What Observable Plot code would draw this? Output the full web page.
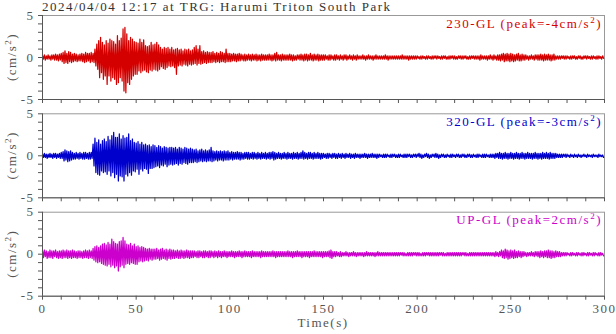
<!DOCTYPE html>
<html><head><meta charset="utf-8">
<script src="https://cdn.jsdelivr.net/npm/d3@7"></script>
<script src="https://cdn.jsdelivr.net/npm/@observablehq/plot@0.6"></script>
<style>
body{margin:0;background:#fff;}
#c{position:relative;width:616px;height:334px;overflow:hidden;font-family:"Liberation Serif","Times New Roman",serif;}
#c svg{position:absolute;left:0;top:0;}
#c svg text{letter-spacing:1.5px;}
</style></head><body><div id="c"></div>
<script>
const title = "2024/04/04 12:17 at TRG: Harumi Triton South Park";
const components = ["230-GL", "320-GL", "UP-GL"];
const peaks = [-4, -3, 2];
const colors = ["#d40000", "#0000cc", "#cc00cc"];
const xTickLabels = [0, 50, 100, 150, 200, 250, 300];
const yTickLabels = [-5, 0, 5];
const yLabel = "(cm/s";
const xLabel = "Time(s)";

// per-second maxima / minima (cm/s^2), t = 0..299 s
const redHi = [
.2,.3,.2,.3,.2,.3,.3,.4,.3,.4, .5,.6,.8,.5,.7,.6,.4,.5,.4,.3, .4,.5,.4,.6,.5,.5,.6,.5,1.0,1.6,
2.0,2.4,1.8,1.5,2.0,1.7,2.2,2.0,1.9,1.6, 2.6,2.0,2.3,3.4,3.6,2.8,2.0,2.4,2.2,1.9, 1.8,1.7,2.2,1.8,2.1,1.4,1.3,1.4,1.8,1.5,
1.6,1.8,1.5,1.2,1.0,1.2,1.1,1.2,1.0,1.2, 0.9,1.0,1.1,0.9,1.0,0.8,1.0,0.9,1.0,0.8, 0.9,1.2,1.4,1.0,1.4,0.7,0.8,0.6,0.7,0.6,
0.6,0.7,0.5,0.6,0.5,0.7,0.6,0.5,1.0,0.5, .5,.4,.5,.4,.4,.5,.4,.3,.4,.3, .4,.3,.4,.3,.4,.3,.3,.4,.3,.3,
.3,.4,.3,.3,.5,.6,.3,.3,.4,.3, .3,.3,.4,.3,.3,.2,.3,.3,.4,.3, .4,.4,.3,.5,.3,.4,.3,.4,.3,.3,
.3,.3,.2,.3,.3,.2,.3,.3,.2,.3, .2,.3,.3,.2,.3,.2,.3,.2,.3,.2, .2,.3,.2,.2,.3,.2,.2,.2,.3,.2,
.2,.2,.2,.3,.2,.2,.2,.2,.2,.2, .2,.2,.3,.2,.2,.2,.2,.2,.2,.2, .2,.1,.2,.2,.1,.2,.2,.1,.2,.2,
.2,.2,.1,.2,.2,.2,.1,.2,.2,.2, .2,.1,.2,.2,.2,.2,.2,.1,.2,.2, .2,.2,.2,.2,.3,.2,.2,.2,.2,.3,
.2,.3,.2,.3,.3,.4,.5,.4,.5,.4, .5,.4,.3,.4,.5,.3,.4,.3,.3,.2, .2,.3,.2,.3,.3,.3,.4,.3,.4,.3,
.4,.3,.3,.4,.2,.2,.2,.2,.2,.2, .2,.1,.2,.2,.2,.1,.2,.2,.1,.2, .2,.2,.1,.2,.2,.1,.2,.2,.1,.2];
const redLo = [
-.2,-.3,-.2,-.2,-.3,-.2,-.3,-.3,-.4,-.3, -.5,-.7,-.6,-.7,-.5,-.6,-.5,-.4,-.5,-.4, -.4,-.5,-.6,-.5,-.4,-.6,-.5,-.6,-1.0,-1.4,
-2.4,-1.8,-2.6,-2.2,-3.2,-2.2,-2.8,-2.4,-2.6,-3.2, -3.0,-2.4,-2.8,-4.0,-4.2,-3.0,-3.2,-2.6,-2.2,-2.0, -2.0,-1.6,-1.8,-1.6,-1.5,-1.7,-1.8,-1.5,-1.6,-1.4,
-1.5,-1.6,-1.4,-1.1,-1.3,-1.4,-1.2,-1.0,-1.1,-1.0, -1.2,-2.0,-1.0,-0.9,-1.0,-0.8,-0.9,-1.0,-0.8,-0.9, -0.8,-0.7,-0.9,-0.7,-0.8,-0.7,-0.6,-0.7,-0.6,-0.6,
-0.6,-0.5,-0.6,-0.5,-0.6,-0.5,-0.5,-0.6,-0.5,-0.5, -.5,-.4,-.4,-.5,-.4,-.4,-.3,-.4,-.4,-.3, -.3,-.4,-.3,-.3,-.4,-.3,-.4,-.3,-.3,-.3,
-.3,-.3,-.4,-.3,-.4,-.3,-.3,-.4,-.3,-.3, -.3,-.3,-.3,-.4,-.3,-.3,-.2,-.3,-.3,-.4, -.3,-.4,-.3,-.3,-.4,-.3,-.3,-.4,-.3,-.3,
-.3,-.2,-.3,-.3,-.2,-.3,-.3,-.2,-.3,-.2, -.3,-.2,-.3,-.2,-.2,-.3,-.2,-.3,-.2,-.2, -.2,-.2,-.3,-.2,-.2,-.2,-.3,-.2,-.2,-.2,
-.2,-.2,-.2,-.2,-.3,-.2,-.2,-.2,-.2,-.2, -.2,-.2,-.2,-.2,-.2,-.3,-.2,-.2,-.2,-.2, -.1,-.2,-.2,-.1,-.2,-.2,-.1,-.2,-.2,-.1,
-.2,-.1,-.2,-.2,-.1,-.2,-.2,-.2,-.1,-.2, -.2,-.2,-.1,-.2,-.2,-.1,-.2,-.2,-.2,-.1, -.2,-.2,-.2,-.3,-.2,-.2,-.2,-.3,-.2,-.2,
-.3,-.2,-.3,-.3,-.4,-.3,-.5,-.4,-.4,-.5, -.4,-.5,-.4,-.3,-.4,-.4,-.3,-.3,-.2,-.3, -.2,-.2,-.3,-.2,-.3,-.3,-.3,-.4,-.3,-.3,
-.3,-.4,-.3,-.3,-.2,-.2,-.2,-.1,-.2,-.2, -.1,-.2,-.2,-.1,-.2,-.2,-.1,-.2,-.2,-.1, -.2,-.1,-.2,-.2,-.1,-.2,-.2,-.1,-.2,-.1];

const blueHi = [
.2,.3,.2,.2,.3,.2,.3,.3,.2,.3, .4,.5,.7,.6,.5,.6,.4,.3,.4,.3, .4,.3,.4,.4,.3,.4,.4,1.4,2.1,1.6,
1.9,1.4,1.8,2.0,1.7,2.3,1.9,2.4,2.8,2.2, 2.2,2.6,2.0,2.4,2.1,2.2,2.6,1.8,2.0,1.6, 1.5,1.7,1.4,1.6,1.3,1.4,1.2,1.3,1.1,1.3,
1.2,1.0,1.2,1.1,0.9,1.1,1.0,0.9,1.0,1.0, 0.9,1.0,0.8,1.0,0.9,0.8,1.0,0.9,0.8,0.9, 0.8,0.7,0.8,0.6,0.7,0.8,0.6,0.7,0.6,0.7,
1.0,0.6,0.5,0.6,0.5,0.6,0.5,0.6,0.5,0.6, .4,.5,.4,.4,.5,.4,.4,.3,.4,.4, .4,.3,.4,.4,.3,.4,.3,.4,.3,.4,
.3,.4,.4,.5,.4,.3,.4,.3,.3,.4, .3,.4,.3,.3,.4,.3,.4,.3,.4,.6, .4,.3,.4,.4,.3,.4,.3,.4,.3,.3,
.3,.2,.3,.3,.2,.3,.3,.2,.3,.2, .3,.2,.3,.2,.3,.2,.2,.3,.2,.2, .2,.2,.3,.2,.2,.2,.3,.2,.2,.2,
.2,.1,.2,.2,.2,.1,.2,.2,.2,.1, .2,.2,.1,.2,.2,.2,.2,.1,.2,.2, .2,.3,.2,.1,.2,.3,.2,.1,.2,.2,
.3,.2,.1,.2,.2,.1,.2,.1,.2,.2, .1,.2,.2,.1,.2,.2,.1,.2,.2,.1, .2,.1,.2,.2,.1,.2,.2,.2,.1,.2,
.2,.2,.3,.3,.4,.3,.3,.4,.3,.3, .4,.3,.3,.4,.3,.3,.4,.3,.3,.4, .3,.3,.3,.4,.3,.3,.3,.4,.3,.4,
.3,.4,.3,.3,.3,.2,.2,.2,.2,.2, .2,.1,.2,.1,.2,.1,.2,.1,.1,.2, .1,.2,.1,.1,.2,.1,.1,.2,.1,.1];
const blueLo = [
-.2,-.2,-.3,-.2,-.2,-.3,-.2,-.3,-.2,-.3, -.3,-.6,-.5,-.7,-.6,-.5,-.4,-.4,-.3,-.4, -.3,-.4,-.4,-.3,-.4,-.4,-.3,-1.2,-2.0,-2.2,
-2.3,-1.8,-2.0,-1.9,-2.2,-1.8,-2.4,-2.0,-2.6,-2.2, -3.0,-2.4,-2.5,-3.0,-2.2,-2.4,-2.0,-2.3,-1.8,-1.9, -1.6,-2.2,-1.6,-1.8,-1.5,-1.6,-2.1,-1.5,-1.5,-1.4,
-1.3,-1.2,-1.4,-1.1,-1.2,-1.0,-1.3,-1.1,-1.0,-1.1, -1.0,-0.9,-1.1,-0.9,-1.0,-0.8,-0.9,-1.0,-0.8,-0.8, -0.8,-0.7,-0.8,-0.7,-0.6,-0.7,-0.6,-0.7,-0.6,-0.6,
-0.7,-0.6,-0.5,-0.6,-0.5,-0.5,-0.6,-0.5,-0.5,-0.5, -.4,-.5,-.4,-.4,-.4,-.5,-.4,-.4,-.3,-.4, -.4,-.3,-.4,-.3,-.4,-.3,-.4,-.3,-.3,-.4,
-.3,-.4,-.3,-.5,-.4,-.3,-.3,-.4,-.3,-.3, -.4,-.3,-.3,-.4,-.3,-.3,-.4,-.3,-.3,-.4, -.3,-.4,-.3,-.3,-.4,-.3,-.3,-.3,-.4,-.3,
-.2,-.3,-.3,-.2,-.3,-.2,-.3,-.3,-.2,-.3, -.2,-.3,-.2,-.2,-.3,-.2,-.3,-.2,-.2,-.3, -.2,-.2,-.2,-.3,-.2,-.2,-.2,-.2,-.3,-.2,
-.1,-.2,-.2,-.2,-.1,-.2,-.2,-.1,-.2,-.2, -.2,-.1,-.2,-.2,-.2,-.1,-.2,-.2,-.1,-.2, -.1,-.2,-.3,-.2,-.1,-.2,-.3,-.2,-.1,-.2,
-.2,-.3,-.2,-.1,-.2,-.2,-.1,-.2,-.2,-.1, -.2,-.1,-.2,-.2,-.1,-.2,-.2,-.1,-.2,-.2, -.1,-.2,-.2,-.1,-.2,-.2,-.2,-.1,-.2,-.2,
-.2,-.3,-.2,-.3,-.3,-.4,-.3,-.3,-.4,-.3, -.3,-.4,-.3,-.3,-.4,-.3,-.3,-.4,-.3,-.3, -.3,-.4,-.3,-.3,-.4,-.3,-.4,-.3,-.3,-.3,
-.4,-.3,-.3,-.3,-.2,-.2,-.2,-.2,-.1,-.2, -.1,-.2,-.1,-.2,-.1,-.2,-.1,-.2,-.1,-.1, -.2,-.1,-.1,-.2,-.1,-.1,-.2,-.1,-.1,-.2];

const magHi = [
.4,.5,.4,.3,.5,.4,.4,.5,.3,.4, .4,.5,.4,.5,.4,.4,.5,.4,.3,.4, .4,.3,.4,.5,.4,.5,.4,.7,.9,1.0,
0.8,1.0,1.2,1.3,1.1,1.4,1.2,1.8,1.5,1.3, 1.2,1.5,1.6,2.0,1.6,1.2,1.1,1.3,1.0,1.2, 0.9,1.0,0.8,0.9,0.8,0.7,0.6,0.7,0.6,0.6,
0.6,0.7,0.5,0.6,0.7,0.5,0.6,0.5,0.6,0.5, 0.5,0.4,0.5,0.4,0.5,0.4,0.4,0.5,0.4,0.4, .4,.4,.3,.4,.4,.3,.4,.4,.3,.4,
.4,.3,.4,.3,.4,.3,.3,.4,.3,.3, .3,.4,.3,.3,.3,.4,.3,.3,.4,.3, .3,.3,.4,.3,.3,.3,.3,.4,.3,.3,
.3,.3,.3,.4,.3,.3,.3,.3,.3,.3, .3,.4,.3,.3,.3,.3,.4,.3,.3,.3, .3,.3,.3,.3,.3,.4,.3,.3,.3,.3,
.3,.3,.3,.4,.5,.3,.3,.3,.2,.3, .2,.2,.3,.2,.2,.2,.3,.2,.2,.2, .2,.2,.2,.3,.2,.2,.2,.2,.2,.3,
.2,.2,.2,.2,.2,.2,.2,.2,.2,.2, .2,.2,.2,.2,.1,.2,.2,.2,.2,.2, .2,.2,.1,.2,.2,.2,.2,.2,.2,.2,
.2,.2,.2,.2,.2,.1,.2,.2,.2,.2, .2,.2,.2,.2,.2,.2,.2,.1,.2,.2, .2,.2,.2,.2,.2,.2,.2,.2,.2,.2,
.2,.2,.3,.2,.3,.5,.4,.6,.5,.4, .5,.4,.5,.3,.4,.3,.3,.3,.2,.2, .2,.3,.2,.3,.3,.3,.4,.3,.4,.4,
.5,.4,.4,.3,.4,.3,.3,.2,.2,.2, .2,.1,.2,.2,.1,.2,.2,.1,.2,.2, .1,.2,.2,.1,.2,.2,.1,.2,.2,.1];
const magLo = [
-.4,-.3,-.5,-.4,-.4,-.5,-.3,-.4,-.5,-.4, -.5,-.4,-.4,-.5,-.4,-.5,-.4,-.4,-.5,-.4, -.4,-.5,-.4,-.4,-.5,-.4,-.5,-.7,-.9,-1.0,
-0.9,-1.1,-1.2,-1.3,-1.4,-1.2,-1.5,-1.3,-1.6,-1.4, -2.0,-1.5,-1.3,-1.6,-1.2,-1.1,-1.2,-1.0,-1.1,-1.2, -1.2,-0.9,-0.8,-0.9,-0.8,-0.7,-0.8,-0.6,-0.7,-0.6,
-0.6,-0.5,-0.7,-0.6,-0.5,-0.6,-0.7,-0.5,-0.6,-0.5, -0.5,-0.4,-0.5,-0.5,-0.4,-0.5,-0.4,-0.4,-0.5,-0.4, -.4,-.3,-.4,-.4,-.3,-.4,-.4,-.3,-.4,-.4,
-.3,-.4,-.3,-.4,-.3,-.4,-.3,-.3,-.4,-.3, -.3,-.3,-.4,-.3,-.3,-.3,-.4,-.3,-.3,-.3, -.3,-.4,-.3,-.3,-.3,-.3,-.4,-.3,-.3,-.3,
-.3,-.3,-.3,-.3,-.4,-.3,-.3,-.3,-.3,-.3, -.3,-.3,-.3,-.4,-.3,-.3,-.3,-.3,-.4,-.3, -.3,-.3,-.4,-.3,-.3,-.3,-.3,-.3,-.3,-.4,
-.3,-.3,-.3,-.4,-.5,-.3,-.3,-.2,-.3,-.3, -.2,-.2,-.2,-.3,-.2,-.2,-.2,-.3,-.2,-.2, -.2,-.3,-.2,-.2,-.2,-.2,-.2,-.3,-.2,-.2,
-.2,-.2,-.2,-.2,-.2,-.2,-.2,-.2,-.2,-.2, -.2,-.1,-.2,-.2,-.2,-.2,-.2,-.2,-.1,-.2, -.2,-.2,-.2,-.2,-.2,-.1,-.2,-.2,-.2,-.2,
-.2,-.2,-.1,-.2,-.2,-.2,-.2,-.2,-.2,-.2, -.2,-.2,-.2,-.2,-.1,-.2,-.2,-.2,-.2,-.2, -.2,-.2,-.2,-.2,-.2,-.2,-.2,-.2,-.2,-.2,
-.2,-.3,-.2,-.3,-.2,-.4,-.5,-.4,-.6,-.5, -.4,-.5,-.4,-.4,-.3,-.4,-.3,-.2,-.3,-.2, -.2,-.2,-.3,-.2,-.3,-.4,-.3,-.4,-.3,-.4,
-.4,-.5,-.4,-.4,-.3,-.3,-.3,-.2,-.2,-.2, -.1,-.2,-.2,-.1,-.2,-.2,-.1,-.2,-.2,-.1, -.2,-.2,-.1,-.2,-.2,-.1,-.2,-.2,-.1,-.2];

const series = [[redHi, redLo], [blueHi, blueLo], [magHi, magLo]];
const toWave = (hi, lo) => hi.flatMap((h, i) => [{t: i, v: h}, {t: i + 0.5, v: lo[i]}]);

const W = 616, H = 334;
const panelTops = [15, 113.3, 211.7];
const panelH = 84;
const root = d3.select("#c");
const FF = '"Liberation Serif", serif';

series.forEach(([hi, lo], k) => {
  const last = k === 2;
  const data = toWave(hi, lo);
  const svg = Plot.plot({
    width: W, height: H,
    marginLeft: 42, marginRight: 12,
    marginTop: panelTops[k], marginBottom: H - panelTops[k] - panelH,
    style: {fontFamily: FF, fontSize: "13px", color: "#555", background: "transparent", overflow: "visible"},
    x: {domain: [0, 300]},
    y: {domain: [-5, 5]},
    marks: [
      Plot.frame({stroke: "#999", strokeWidth: 1}),
      Plot.line(data, {x: "t", y: "v", stroke: colors[k], strokeWidth: 1.25}),
      Plot.ruleX([0], {stroke: "#555"}),
      Plot.ruleY([-5], {stroke: "#555"}),
      Plot.axisY({ticks: d3.range(-5, 6, 1), tickSize: 4, tickPadding: 4, label: null,
        tickFormat: d => yTickLabels.includes(d) ? String(d) : ""}),
      Plot.axisX({ticks: d3.range(0, 301, 10), tickSize: 4, tickPadding: 4, label: null,
        tickFormat: d => (last && xTickLabels.includes(d)) ? String(d) : ""})
    ]
  });
  root.node().appendChild(svg);
  const s = d3.select(svg);
  const lab = s.append("text").attr("x", 602).attr("y", panelTops[k] + 12.5)
    .attr("text-anchor", "end").attr("fill", colors[k])
    .style("font-family", FF).style("font-size", "13px");
  lab.append("tspan").text(`${components[k]} (peak=${peaks[k]}cm/s`);
  lab.append("tspan").attr("dy", -5).style("font-size", "9px").text("2");
  lab.append("tspan").attr("dy", 5).text(")");
  const yl = s.append("text")
    .attr("transform", `translate(16,${panelTops[k] + panelH / 2}) rotate(-90)`)
    .attr("text-anchor", "middle").attr("fill", "#555")
    .style("font-family", FF).style("font-size", "13px");
  yl.append("tspan").text(yLabel);
  yl.append("tspan").attr("dy", -5).style("font-size", "9px").text("2");
  yl.append("tspan").attr("dy", 5).text(")");
  if (last) {
    s.append("text").attr("x", (42 + W - 12) / 2).attr("y", 327)
      .attr("text-anchor", "middle").attr("fill", "#555")
      .style("font-family", FF).style("font-size", "13px")
      .text(xLabel);
  }
  if (k === 0) {
    s.append("text").attr("x", 42).attr("y", 10.5).attr("fill", "#333")
      .attr("text-anchor", "start")
      .style("font-family", FF).style("font-size", "13px")
      .text(title);
  }
});
</script></body></html>
